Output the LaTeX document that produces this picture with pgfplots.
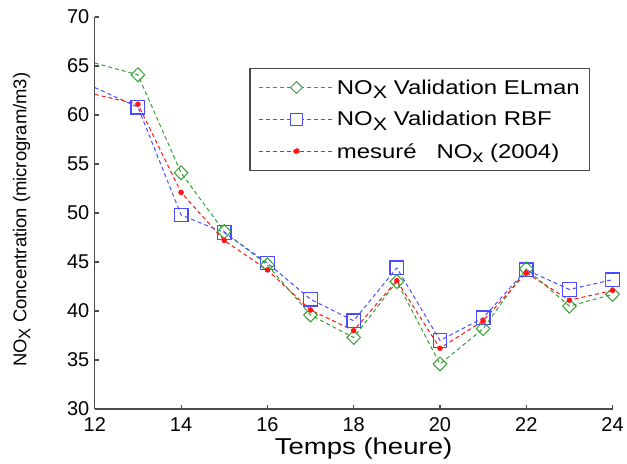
\documentclass[border=0pt]{standalone}
\usepackage{pgfplots}
\pgfplotsset{compat=1.18}
\usepackage{fontspec}
\setmainfont{Liberation Sans}
\newfontfamily\legfont[FakeStretch=1.2]{Liberation Sans}
\definecolor{elmanG}{RGB}{50,160,50}
\definecolor{rbfB}{RGB}{75,75,255}
\definecolor{mesR}{RGB}{255,20,20}
\definecolor{axGray}{RGB}{75,75,75}
\newcommand{\sub}[1]{\raisebox{-0.42ex}{\scalebox{0.9}{#1}}}
\pgfplotstableread{
h   elman  rbf   mes
12  65.3   62.8  62.1
13  64.1   60.8  61.1
14  54.1   49.8  52.1
15  48.1   48.0  47.2
16  44.7   44.9  44.2
17  39.6   41.2  40.1
18  37.3   39.0  38.0
19  43.0   44.4  43.1
20  34.6   37.0  36.2
21  38.2   39.3  39.0
22  44.3   44.2  43.9
23  40.5   42.2  41.1
24  41.7   43.2  42.1
}\nox
\begin{document}
\begin{tikzpicture}
\begin{axis}[
  scale only axis,
  width=519pt, height=393pt,
  xmin=12, xmax=24, ymin=30, ymax=70,
  xtick={12,14,...,24}, ytick={30,35,...,70},
  axis x line*=bottom, axis y line*=left,
  axis line style={axGray, line width=1.1pt},
  major tick style={axGray, line width=1.1pt},
  major tick length=4pt,
  /pgf/number format/assume math mode=true,
  tick label style={font=\fontsize{20}{22}\selectfont},
  xticklabel style={yshift=-5pt},
  yticklabel style={xshift=-2pt},
  xlabel={Temps (heure)},
  ylabel={NO\sub{X} Concentration (microgram/m3)},
  every axis x label/.style={at={(axis description cs:0.519,-0.102)}, anchor=center,
    font=\legfont\fontsize{23}{26}\selectfont},
  every axis y label/.style={at={(axis description cs:-0.141,0.483)}, anchor=center,
    rotate=90, font=\fontsize{18.5}{20}\selectfont},
  legend style={at={(0.2987,0.870)}, anchor=north west, draw=axGray, line width=1.3pt,
    font=\legfont\fontsize{20}{22}\selectfont, row sep=12pt,
    inner xsep=8pt, inner ysep=9pt, cells={anchor=west}},
  lin/.style={line width=1pt, dash pattern=on 4pt off 3pt},
]
\coordinate (bl) at (rel axis cs:0,0);
\coordinate (tr) at (rel axis cs:1,1);
% lines
\addplot[elmanG, lin, no marks,
  legend image code/.code={
    \draw[elmanG, line width=0.9pt, dash pattern=on 4pt off 3pt] (0pt,0pt) -- (76pt,0pt);
    \draw[elmanG, solid, line width=1pt, fill=white] (32pt,0pt) -- (38pt,6pt) -- (44pt,0pt) -- (38pt,-6pt) -- cycle;}]
  table[x=h, y=elman] {\nox};
\addlegendentry{NO\sub{X} Validation ELman}
\addplot[rbfB, lin, no marks,
  legend image code/.code={
    \draw[rbfB, line width=0.9pt, dash pattern=on 4pt off 3pt] (0pt,0pt) -- (76pt,0pt);
    \draw[rbfB, solid, line width=1.2pt, fill=white] (32pt,-6pt) rectangle (44pt,6pt);}]
  table[x=h, y=rbf] {\nox};
\addlegendentry{NO\sub{X} Validation RBF}
\addplot[mesR, lin, no marks,
  legend image code/.code={
    \draw[mesR, line width=1pt, dash pattern=on 4pt off 3pt] (0pt,0.3pt) -- (76pt,0.3pt);
    \fill[mesR] (38pt,0.3pt) circle (2.6pt);}]
  table[x=h, y=mes] {\nox};
\addlegendentry{mesuré \ \ NO\sub{x} (2004)}
% marks (none at 12 h)
\addplot[only marks, forget plot, mark=square, mark size=6.8pt, skip coords between index={0}{1},
  mark options={solid, draw=rbfB, line width=1.3pt}] table[x=h, y=rbf] {\nox};
\addplot[only marks, forget plot, mark=diamond, mark size=7pt, skip coords between index={0}{1},
  mark options={solid, draw=elmanG, line width=1pt, xscale=1.3}] table[x=h, y=elman] {\nox};
\addplot[only marks, forget plot, mark=*, mark size=2.5pt, skip coords between index={0}{1},
  mark options={solid, draw=mesR, fill=mesR}] table[x=h, y=mes] {\nox};
\end{axis}
\path ([shift={(-95pt,-55pt)}]bl) rectangle ([shift={(13pt,17pt)}]tr);
\end{tikzpicture}
\end{document}
